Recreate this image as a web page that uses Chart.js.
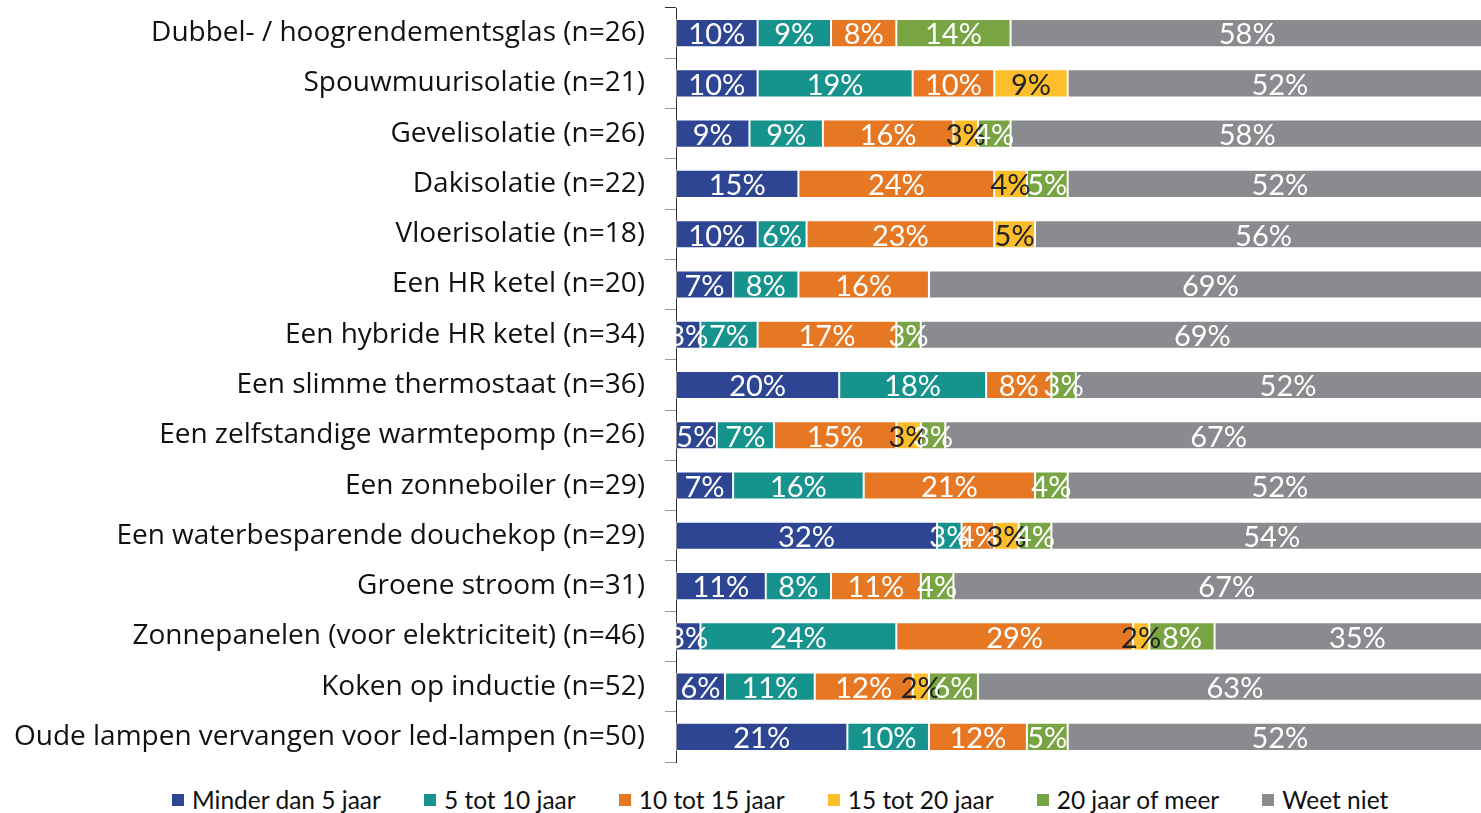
<!DOCTYPE html>
<html>
<head>
<meta charset="utf-8">
<script src="https://cdn.jsdelivr.net/npm/chart.js@4.4.0/dist/chart.umd.min.js"></script>
<style>
    html, body { margin: 0; padding: 0; background: #fff; overflow: hidden; }
    #wrap { position: relative; width: 1492px; height: 813px; }
    #myChart { position: absolute; left: 0; top: 0; }
    .legend { position: absolute; left: 172px; top: 785px; display: flex; gap: 43px;
        font-family: Lato, sans-serif; font-size: 24.5px; color: #111; white-space: nowrap; }
    .legend-item { display: flex; align-items: center; }
    .legend-box { width: 12px; height: 12px; margin-right: 8px; }
</style>
</head>
<body>
<div id="wrap">
    <canvas id="myChart" width="1492" height="765"></canvas>
    <div class="legend" id="legend"></div>
</div>
<script>
var categories = [
    "Dubbel- / hoogrendementsglas (n=26)",
    "Spouwmuurisolatie (n=21)",
    "Gevelisolatie (n=26)",
    "Dakisolatie (n=22)",
    "Vloerisolatie (n=18)",
    "Een HR ketel (n=20)",
    "Een hybride HR ketel (n=34)",
    "Een slimme thermostaat (n=36)",
    "Een zelfstandige warmtepomp (n=26)",
    "Een zonneboiler (n=29)",
    "Een waterbesparende douchekop (n=29)",
    "Groene stroom (n=31)",
    "Zonnepanelen (voor elektriciteit) (n=46)",
    "Koken op inductie (n=52)",
    "Oude lampen vervangen voor led-lampen (n=50)"
];

var seriesNames = ["Minder dan 5 jaar", "5 tot 10 jaar", "10 tot 15 jaar", "15 tot 20 jaar", "20 jaar of meer", "Weet niet"];
var seriesColors = ["#2E4594", "#17938E", "#E77823", "#FDBE2C", "#79A443", "#898B8E"];
var labelColors = ["#fff", "#fff", "#fff", "#222", "#fff", "#fff"];

var minder5 = [10, 10, 9, 15, 10, 7, 3, 20, 5, 7, 32, 11, 3, 6, 21];
var tot10 = [9, 19, 9, 0, 6, 8, 7, 18, 7, 16, 3, 8, 24, 11, 10];
var tot15 = [8, 10, 16, 24, 23, 16, 17, 8, 15, 21, 4, 11, 29, 12, 12];
var tot20 = [0, 9, 3, 4, 5, 0, 0, 0, 3, 0, 3, 0, 2, 2, 0];
var meer20 = [14, 0, 4, 5, 0, 0, 3, 3, 3, 4, 4, 4, 8, 6, 5];
var weetNiet = [58, 52, 58, 52, 56, 69, 69, 52, 67, 52, 54, 67, 35, 63, 52];

var seriesValues = [minder5, tot10, tot15, tot20, meer20, weetNiet];

var buildDatasets = () => {
    let sets = [];
    for (let i = 0; i < seriesNames.length; i++) {
        sets.push({
            label: seriesNames[i],
            data: seriesValues[i],
            backgroundColor: seriesColors[i],
            borderColor: 'rgba(255,255,255,0.45)',
            borderWidth: 1,
            borderSkipped: false,
            categoryPercentage: 1,
            barPercentage: 0.56
        });
    }
    return sets;
}

// draws the percentage in the middle of each segment
var segmentLabels = {
    id: 'segmentLabels',
    afterDatasetsDraw: (chart) => {
        const ctx = chart.ctx;
        const area = chart.chartArea;
        ctx.save();
        ctx.beginPath();
        ctx.rect(area.left, area.top, area.right - area.left, area.bottom - area.top);
        ctx.clip();
        ctx.font = "29px Lato, sans-serif";
        ctx.textAlign = "center";
        ctx.textBaseline = "middle";
        chart.data.datasets.forEach((ds, i) => {
            const meta = chart.getDatasetMeta(i);
            ctx.fillStyle = labelColors[i];
            meta.data.forEach((bar, j) => {
                const v = ds.data[j];
                if (!v) return;
                ctx.fillText(v + "%", (bar.x + bar.base) / 2, bar.y + 2);
            });
        });
        ctx.restore();
    }
};

var lastIdx = categories.length;

window.onload = () => {
    const ctx = document.getElementById('myChart').getContext('2d');
    new Chart(ctx, {
        type: 'bar',
        data: {
            labels: categories,
            datasets: buildDatasets()
        },
        options: {
            indexAxis: 'y',
            responsive: false,
            animation: false,
            layout: { padding: { left: 0, top: 8, bottom: 3, right: 0 } },
            scales: {
                x: {
                    stacked: true,
                    min: 0,
                    max: 100,
                    display: false
                },
                y: {
                    stacked: true,
                    afterFit: (scale) => {
                        scale.width = 676;
                        scale.paddingTop = 0;
                        scale.paddingBottom = 0;
                    },
                    grid: {
                        offset: true,
                        drawOnChartArea: false,
                        tickLength: 11,
                        color: (c) => (c.index === 0 || c.index === lastIdx) ? '#333' : '#999'
                    },
                    border: { color: '#333', width: 1 },
                    ticks: {
                        padding: 20,
                        color: '#111',
                        font: { family: "'Open Sans', sans-serif", size: 28 }
                    }
                }
            },
            plugins: {
                legend: { display: false },
                tooltip: { enabled: false }
            }
        },
        plugins: [segmentLabels]
    });

    let legend = document.getElementById('legend');
    for (let i = 0; i < seriesNames.length; i++) {
        let item = document.createElement('div');
        item.className = 'legend-item';
        let box = document.createElement('span');
        box.className = 'legend-box';
        box.style.background = seriesColors[i];
        item.appendChild(box);
        item.appendChild(document.createTextNode(seriesNames[i]));
        legend.appendChild(item);
    }
}
</script>
</body>
</html>
